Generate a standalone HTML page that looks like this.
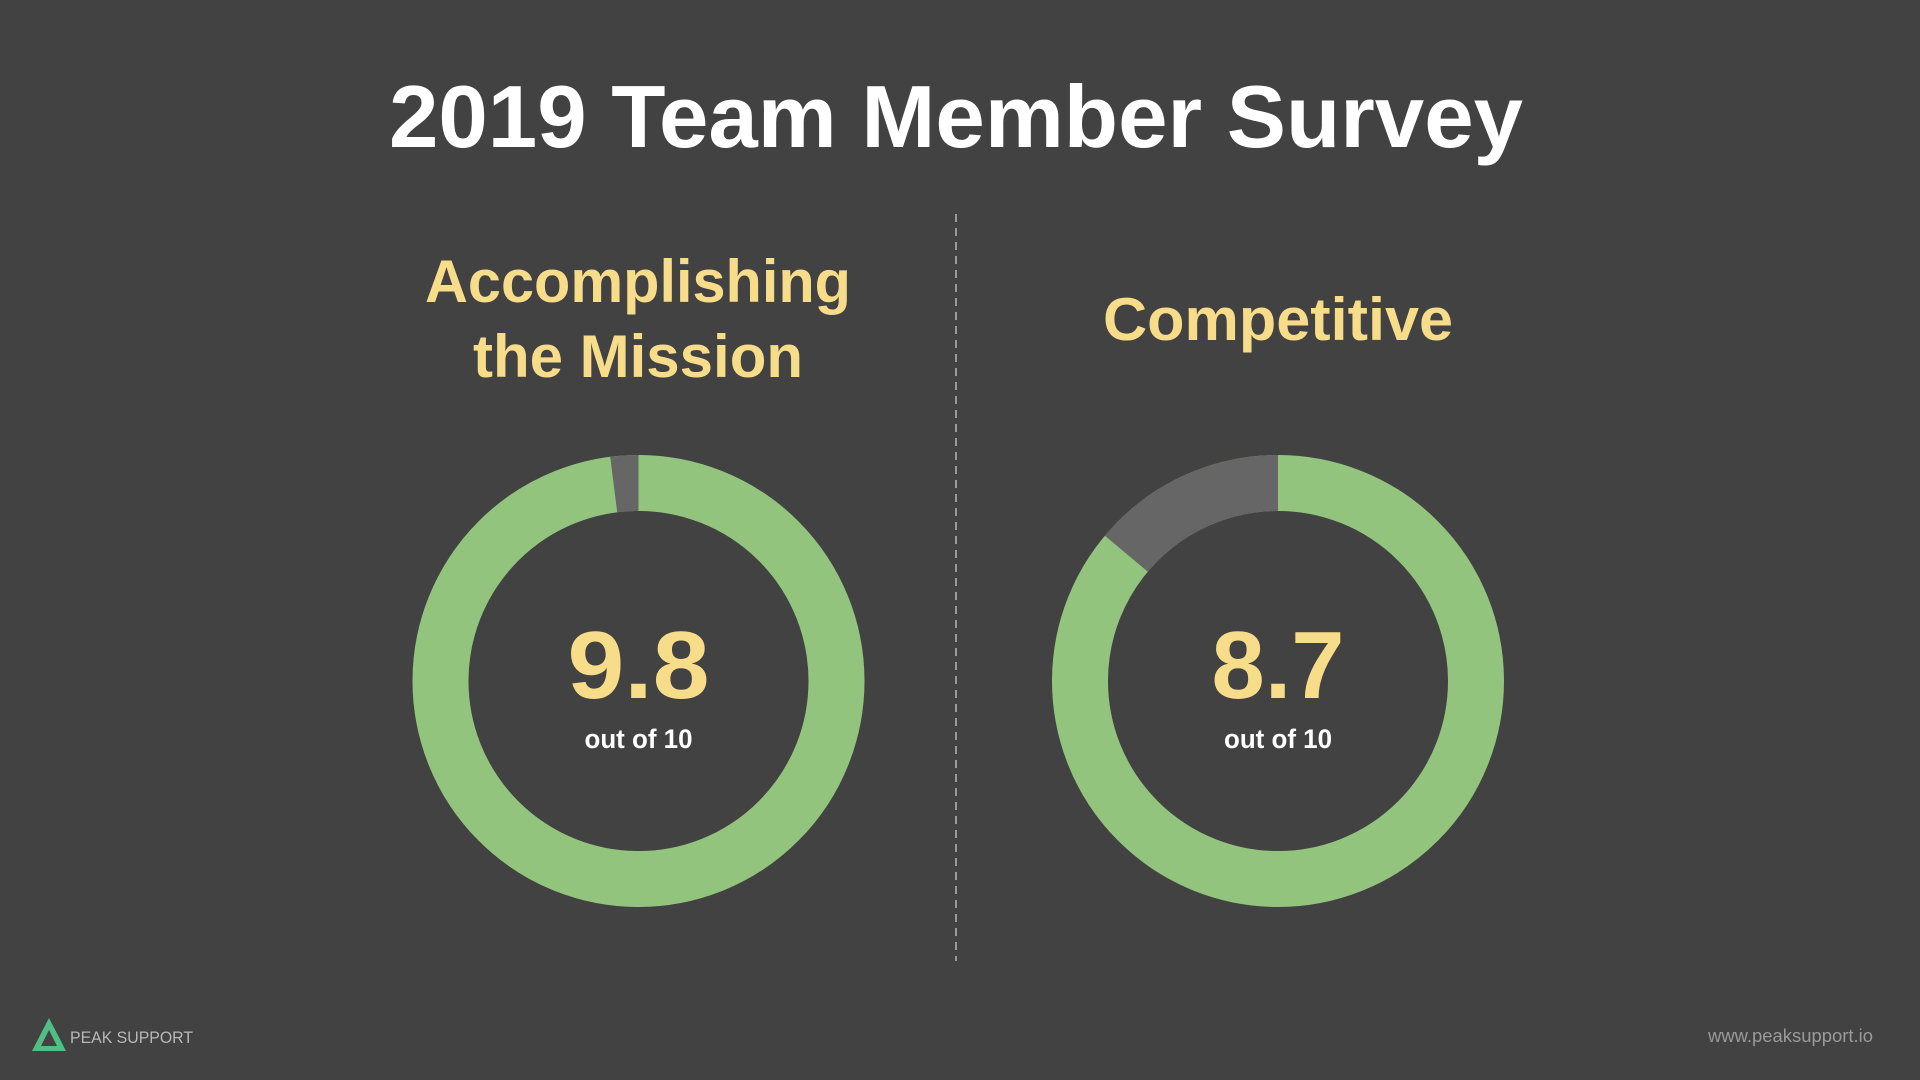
<!DOCTYPE html>
<html><head><meta charset="utf-8"><style>
html,body{margin:0;padding:0;background:#424242;}
svg{display:block;}
</style></head><body>
<svg width="1920" height="1080" viewBox="0 0 1920 1080" xmlns="http://www.w3.org/2000/svg" font-family="Liberation Sans, sans-serif">
<rect width="1920" height="1080" fill="#424242"/>
<text x="389" y="147" font-size="88" font-weight="bold" fill="#ffffff" textLength="1134" lengthAdjust="spacingAndGlyphs">2019 Team Member Survey</text>
<text x="425" y="302" font-size="60" font-weight="bold" fill="#f7dc8a" textLength="426" lengthAdjust="spacingAndGlyphs">Accomplishing</text>
<text x="473" y="377" font-size="60" font-weight="bold" fill="#f7dc8a" textLength="330" lengthAdjust="spacingAndGlyphs">the Mission</text>
<text x="1103" y="340" font-size="60" font-weight="bold" fill="#f7dc8a" textLength="350" lengthAdjust="spacingAndGlyphs">Competitive</text>
<line x1="956" y1="214" x2="956" y2="961" stroke="#9a9a9a" stroke-width="2" stroke-dasharray="8,6"/>
<g transform="translate(638.5,681)">
<circle r="198" fill="none" stroke="#93c47d" stroke-width="56"/>
<path d="M0,-226 A226,226 0 0,0 -28.3,-224.2 L-21.3,-168.7 A170,170 0 0,1 0,-170 Z" fill="#666666"/>
<text x="0" y="17" font-size="96" font-weight="bold" fill="#f7dc8a" text-anchor="middle" textLength="142" lengthAdjust="spacingAndGlyphs">9.8</text>
<text x="0" y="67" font-size="27" font-weight="bold" fill="#ffffff" text-anchor="middle" textLength="108" lengthAdjust="spacingAndGlyphs">out of 10</text>
</g>
<g transform="translate(1278,681)">
<circle r="198" fill="none" stroke="#93c47d" stroke-width="56"/>
<path d="M0,-226 A226,226 0 0,0 -173.1,-145.3 L-130.2,-109.3 A170,170 0 0,1 0,-170 Z" fill="#666666"/>
<text x="0" y="17" font-size="96" font-weight="bold" fill="#f7dc8a" text-anchor="middle" textLength="133" lengthAdjust="spacingAndGlyphs">8.7</text>
<text x="0" y="67" font-size="27" font-weight="bold" fill="#ffffff" text-anchor="middle" textLength="108" lengthAdjust="spacingAndGlyphs">out of 10</text>
</g>
<path d="M49,1018 L66,1051 L32,1051 Z M49,1030 L41,1046 L57,1046 Z" fill="#4fbf86" fill-rule="evenodd"/>
<text x="70" y="1043" font-size="17" fill="#b8b8b8" textLength="123" lengthAdjust="spacingAndGlyphs">PEAK SUPPORT</text>
<text x="1873" y="1042" font-size="18" fill="#9a9a9a" text-anchor="end" textLength="165" lengthAdjust="spacingAndGlyphs">www.peaksupport.io</text>
</svg>
</body></html>
